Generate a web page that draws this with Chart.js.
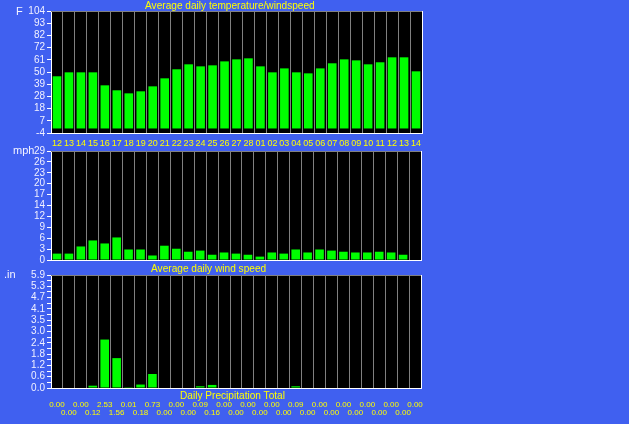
<!DOCTYPE html>
<html lang="en">
<head>
<meta charset="utf-8">
<title>Daily weather</title>
<script src="https://cdn.jsdelivr.net/npm/chart.js"></script>
<style>
  body { margin: 0; background: rgb(64, 96, 240); width: 629px; height: 424px; overflow: hidden; position: relative; font-family: "Liberation Sans", Arial, sans-serif; }
  canvas { position: absolute; left: 0; top: 0; pointer-events: none; }
  .lbl { position: absolute; white-space: nowrap; font-size: 11px; line-height: 11px; transform-origin: 0 0; }
  .title { color: #ffff00; transform: scaleX(0.92); }
  .unit { color: #f4f4ff; }
</style>
</head>
<body>
<canvas id="tempChart" width="629" height="424"></canvas>
<canvas id="windChart" width="629" height="424"></canvas>
<canvas id="rainChart" width="629" height="424"></canvas>

<div class="lbl title" style="left:145px; top:0px;">Average daily temperature/windspeed</div>
<div class="lbl title" style="left:151px; top:263px;">Average daily wind speed</div>
<div class="lbl title" style="left:180px; top:390px;">Daily Precipitation Total</div>
<div class="lbl unit" style="left:16px; top:6px;">F</div>
<div class="lbl unit" style="left:13px; top:145px;">mph</div>
<div class="lbl unit" style="left:4px; top:269px;">.in</div>

<script>
// days: 12 Feb .. 14 Mar
const days = ['12','13','14','15','16','17','18','19','20','21','22','23','24','25','26','27','28',
              '01','02','03','04','05','06','07','08','09','10','11','12','13','14'];

const avgTemp = [46.2, 49.7, 49.7, 49.7, 38.2, 33.8, 31.1, 32.9, 37.3, 44.4, 52.4, 56.8, 55.0, 55.9, 59.4, 61.2, 62.1,
                 55.0, 49.7, 53.2, 49.7, 48.8, 53.2, 57.7, 61.2, 60.3, 56.8, 58.6, 63.0, 63.0, 50.6];

const avgWind = [1.7, 1.7, 3.6, 5.2, 4.4, 6.0, 2.8, 2.8, 1.2, 3.8, 3.0, 2.2, 2.5, 1.4, 2.0, 1.7, 1.4,
                 0.9, 2.0, 1.7, 2.8, 2.0, 2.8, 2.5, 2.2, 2.0, 2.0, 2.2, 2.0, 1.4, 0];

const precip = [0.00, 0.00, 0.00, 0.12, 2.53, 1.56, 0.01, 0.18, 0.73, 0.00, 0.00, 0.00, 0.09, 0.16, 0.00, 0.00, 0.00,
                0.00, 0.00, 0.00, 0.09, 0.00, 0.00, 0.00, 0.00, 0.00, 0.00, 0.00, 0.00, 0.00, 0.00];

const tempTickLabels = ['-4', '7', '18', '28', '39', '50', '61', '72', '82', '93', '104'];
const windTickLabels = ['0', '3', '6', '9', '12', '14', '17', '20', '23', '26', '29'];
const rainTickLabels = ['0.0', '0.6', '1.2', '1.8', '2.4', '3.0', '3.5', '4.1', '4.7', '5.3', '5.9'];

Chart.defaults.font.family = '"Liberation Sans", Arial, sans-serif';
Chart.defaults.animation = false;

// black plot background plus the grey top / white right edge
const panelFrame = {
  id: 'panelFrame',
  beforeDraw(chart) {
    const a = chart.chartArea, ctx = chart.ctx;
    ctx.save();
    ctx.fillStyle = '#000000';
    ctx.fillRect(a.left, a.top, a.right - a.left, a.bottom - a.top);
    ctx.restore();
  },
  afterDraw(chart) {
    const a = chart.chartArea, ctx = chart.ctx;
    ctx.save();
    ctx.lineWidth = 1;
    ctx.strokeStyle = '#808080';
    ctx.beginPath();
    ctx.moveTo(a.left, a.top + 0.5);
    ctx.lineTo(a.right, a.top + 0.5);
    ctx.stroke();
    ctx.strokeStyle = '#ffffff';
    ctx.beginPath();
    ctx.moveTo(a.right + 0.5, a.top);
    ctx.lineTo(a.right + 0.5, a.bottom + 1);
    ctx.stroke();
    ctx.restore();
  }
};

function yAxis(min, max, labels, minor) {
  const n = labels.length - 1;
  const steps = minor ? n * 2 : n;
  return {
    min: min,
    max: max,
    afterBuildTicks(scale) {
      const t = [];
      for (let i = 0; i <= steps; i++) t.push({ value: min + (max - min) * i / steps });
      scale.ticks = t;
    },
    afterFit(scale) { scale.width = 51; },
    ticks: {
      color: '#f0f0ff',
      font: { size: 10 },
      padding: 2,
      autoSkip: false,
      callback(v, i) {
        if (minor) return i % 2 ? '' : labels[i / 2];
        return labels[i];
      }
    },
    grid: { display: true, drawOnChartArea: false, color: '#ffffff', tickLength: 4 },
    border: { color: '#ffffff', width: 1 }
  };
}

function xAxis(height, tickOpts) {
  return {
    afterFit(scale) { scale.height = height; },
    grid: { display: true, offset: true, color: '#808080', lineWidth: 1, drawTicks: false },
    border: { color: '#ffffff', width: 1 },
    ticks: tickOpts
  };
}

function barSet(values) {
  return {
    data: values,
    backgroundColor: '#00ff00',
    borderWidth: 0,
    barPercentage: 0.72,
    categoryPercentage: 1.0
  };
}

function makeChart(id, values, y, x, pad) {
  return new Chart(document.getElementById(id), {
    type: 'bar',
    data: { labels: days, datasets: [barSet(values)] },
    options: {
      responsive: false,
      layout: { padding: pad },
      plugins: { legend: { display: false }, tooltip: { enabled: false }, title: { display: false } },
      scales: { x: x, y: y }
    },
    plugins: [panelFrame]
  });
}

makeChart('tempChart', avgTemp,
  yAxis(-4, 104, tempTickLabels, false),
  xAxis(18, { color: '#ffff00', font: { size: 9 }, padding: 5, autoSkip: false, maxRotation: 0, minRotation: 0 }),
  { left: 0, top: 11, right: 207, bottom: 424 - 133 - 18 });

makeChart('windChart', avgWind,
  yAxis(0, 29, windTickLabels, false),
  xAxis(0, { display: false }),
  { left: 0, top: 151, right: 208, bottom: 424 - 260 });

makeChart('rainChart', precip,
  yAxis(0, 5.9, rainTickLabels, true),
  xAxis(36, {
    color: '#ffff00', font: { size: 8, lineHeight: 0.95 }, padding: 13,
    autoSkip: false, maxRotation: 0, minRotation: 0,
    callback(v, i) {
      const s = precip[i].toFixed(2);
      return i % 2 ? ['', s] : [s, ''];
    }
  }),
  { left: 0, top: 275, right: 208, bottom: 424 - 388 - 36 });
</script>
</body>
</html>
